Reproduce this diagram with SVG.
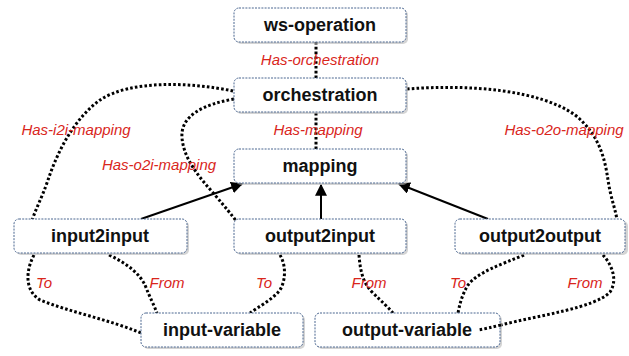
<svg xmlns="http://www.w3.org/2000/svg" width="629" height="356" viewBox="0 0 629 356">
<style>
.box{fill:#fff;stroke:#4a6690;stroke-width:1;stroke-dasharray:2 1.2}
.sh{fill:#b8b8b8;opacity:0.6}
.nt{font-family:"Liberation Sans",Arial,sans-serif;font-weight:bold;font-size:18px;fill:#111;text-anchor:middle}
.lb{font-family:"Liberation Sans",Arial,sans-serif;font-style:italic;font-size:15px;fill:#d9261c;text-anchor:middle}
.dot{fill:none;stroke:#000;stroke-width:3;stroke-dasharray:2.6 2.2}
.arr{fill:none;stroke:#000;stroke-width:2;marker-end:url(#ah)}
</style>
<defs>
<marker id="ah" viewBox="0 0 10 10" refX="9" refY="5" markerWidth="6" markerHeight="6" orient="auto" markerUnits="strokeWidth">
<path d="M0,0 L10,5 L0,10 z" fill="#000"/>
</marker>
</defs>
<rect width="629" height="356" fill="#fff"/>
<g id="connectors">
<path class="dot" d="M316,42 V80"/>
<path class="dot" d="M316,113 V149"/>
<path class="dot" d="M233,91 C190,82 130,80 100,100 C75,118 58,150 48,180 C42,198 35,210 32,221"/>
<path class="dot" d="M234,99 C205,104 180,115 182,138 C184,160 200,178 215,195 C225,207 232,215 236,221"/>
<path class="dot" d="M407,89 C470,84 540,90 575,115 C600,135 605,160 608,180 C611,200 616,210 617,221"/>
<path class="dot" d="M34,255 C26,270 24,290 40,300 C70,312 110,320 141,333"/>
<path class="dot" d="M109,255 C130,265 140,275 145,285 C150,298 154,305 157,313"/>
<path class="dot" d="M280,255 C286,265 286,280 280,290 C272,300 258,307 250,313"/>
<path class="dot" d="M359,255 C360,268 362,282 372,292 C382,302 388,307 393,313"/>
<path class="dot" d="M524,255 C500,265 478,272 468,285 C462,295 460,303 458,313"/>
<path class="dot" d="M603,255 C612,265 618,280 610,292 C595,308 540,315 501,325"/>
<path class="arr" d="M141,219 L242,184"/>
<path class="arr" d="M321,219 L321,185"/>
<path class="arr" d="M488,219 L399,184"/>
</g>
<g id="ws-operation">
<rect class="sh" x="236" y="10" width="172" height="34" rx="5"/>
<rect class="box" x="234" y="8" width="172" height="34" rx="5"/>
<text class="nt" x="320" y="31">ws-operation</text>
</g>
<g id="orchestration">
<rect class="sh" x="236" y="80" width="172" height="34" rx="5"/>
<rect class="box" x="234" y="78" width="172" height="34" rx="5"/>
<text class="nt" x="320" y="101">orchestration</text>
</g>
<g id="mapping">
<rect class="sh" x="236" y="151" width="172" height="34" rx="5"/>
<rect class="box" x="234" y="149" width="172" height="34" rx="5"/>
<text class="nt" x="320" y="172">mapping</text>
</g>
<g id="input2input">
<rect class="sh" x="16" y="221" width="173" height="34" rx="5"/>
<rect class="box" x="14" y="219" width="173" height="34" rx="5"/>
<text class="nt" x="100" y="242">input2input</text>
</g>
<g id="output2input">
<rect class="sh" x="236" y="221" width="172" height="34" rx="5"/>
<rect class="box" x="234" y="219" width="172" height="34" rx="5"/>
<text class="nt" x="320" y="242">output2input</text>
</g>
<g id="output2output">
<rect class="sh" x="457" y="221" width="171" height="34" rx="5"/>
<rect class="box" x="455" y="219" width="170" height="34" rx="5"/>
<text class="nt" x="540" y="242">output2output</text>
</g>
<g id="input-variable">
<rect class="sh" x="143" y="315" width="162" height="34" rx="5"/>
<rect class="box" x="141" y="313" width="162" height="34" rx="5"/>
<text class="nt" x="222" y="336">input-variable</text>
</g>
<g id="output-variable">
<rect class="sh" x="317" y="315" width="185" height="34" rx="5"/>
<rect class="box" x="315" y="313" width="185" height="34" rx="5"/>
<text class="nt" x="407" y="336">output-variable</text>
</g>
<path class="dot" d="M501,325 C492,327 485,329 478,330"/>
<g id="labels">
<text class="lb" x="320" y="65">Has-orchestration</text>
<text class="lb" x="318" y="135">Has-mapping</text>
<text class="lb" x="76" y="135">Has-i2i-mapping</text>
<text class="lb" x="159" y="170">Has-o2i-mapping</text>
<text class="lb" x="564" y="135">Has-o2o-mapping</text>
<text class="lb" x="44" y="288">To</text>
<text class="lb" x="167" y="288">From</text>
<text class="lb" x="264" y="288">To</text>
<text class="lb" x="369" y="288">From</text>
<text class="lb" x="458" y="288">To</text>
<text class="lb" x="585" y="288">From</text>
</g>
</svg>
